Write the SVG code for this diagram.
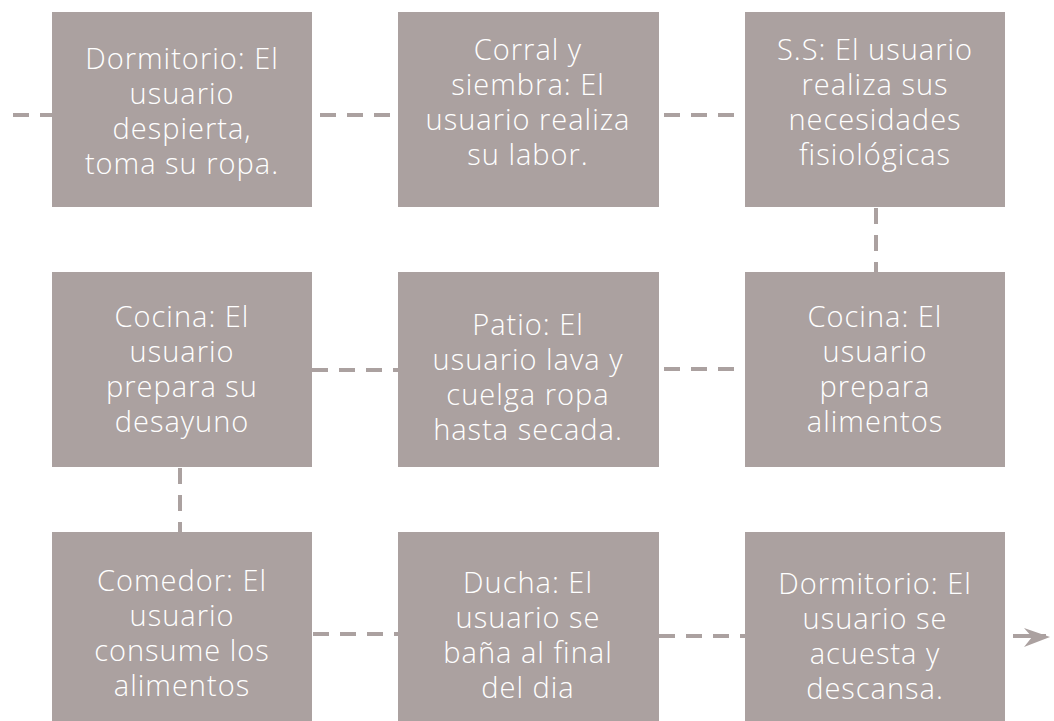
<svg xmlns="http://www.w3.org/2000/svg" width="1054" height="721" viewBox="0 0 1054 721">
<style>
.box{fill:#aba1a0;}
.t{font-family:"Open Sans","Liberation Sans",sans-serif;font-weight:300;font-size:29px;letter-spacing:1px;fill:#ffffff;text-anchor:middle;}
.c{stroke:#aba1a0;stroke-width:4;fill:none;stroke-dasharray:16 11;}
</style>
<rect width="1054" height="721" fill="#ffffff"/>
<g id="connectors">
<line class="c" x1="13" y1="115" x2="52" y2="115"/>
<line class="c" x1="320" y1="115" x2="398" y2="115"/>
<line class="c" x1="664" y1="115" x2="745" y2="115"/>
<line class="c" x1="876" y1="208" x2="876" y2="272"/>
<line class="c" x1="312" y1="370" x2="398" y2="370"/>
<line class="c" x1="664" y1="369" x2="745" y2="369"/>
<line class="c" x1="180" y1="468" x2="180" y2="532"/>
<line class="c" x1="313" y1="634" x2="398" y2="634"/>
<line class="c" x1="659" y1="636" x2="745" y2="636"/>
<path d="M1013,636 L1046,636" stroke="#aba1a0" stroke-width="4" fill="none"/>
<path d="M1024,628 L1050,637 L1024,647 L1032,637 Z" fill="#aba1a0"/>
</g>
<g id="n1"><rect class="box" x="52" y="12" width="260" height="195"/>
<text class="t"><tspan x="182" y="69">Dormitorio: El</tspan><tspan x="182" y="104">usuario</tspan><tspan x="182" y="139">despierta,</tspan><tspan x="182" y="174">toma su ropa.</tspan></text></g>
<g id="n2"><rect class="box" x="398" y="12" width="261" height="195"/>
<text class="t"><tspan x="528" y="60">Corral y</tspan><tspan x="528" y="95">siembra: El</tspan><tspan x="528" y="130">usuario realiza</tspan><tspan x="528" y="165">su labor.</tspan></text></g>
<g id="n3"><rect class="box" x="745" y="12" width="260" height="195"/>
<text class="t"><tspan x="875" y="60">S.S: El usuario</tspan><tspan x="875" y="95">realiza sus</tspan><tspan x="875" y="130">necesidades</tspan><tspan x="875" y="165">fisiológicas</tspan></text></g>
<g id="n4"><rect class="box" x="52" y="272" width="260" height="195"/>
<text class="t"><tspan x="182" y="327">Cocina: El</tspan><tspan x="182" y="362">usuario</tspan><tspan x="182" y="397">prepara su</tspan><tspan x="182" y="432">desayuno</tspan></text></g>
<g id="n5"><rect class="box" x="398" y="272" width="261" height="195"/>
<text class="t"><tspan x="528" y="335">Patio: El</tspan><tspan x="528" y="370">usuario lava y</tspan><tspan x="528" y="405">cuelga ropa</tspan><tspan x="528" y="440">hasta secada.</tspan></text></g>
<g id="n6"><rect class="box" x="745" y="272" width="260" height="195"/>
<text class="t"><tspan x="875" y="327">Cocina: El</tspan><tspan x="875" y="362">usuario</tspan><tspan x="875" y="397">prepara</tspan><tspan x="875" y="432">alimentos</tspan></text></g>
<g id="n7"><rect class="box" x="52" y="532" width="260" height="195"/>
<text class="t"><tspan x="182" y="591">Comedor: El</tspan><tspan x="182" y="626">usuario</tspan><tspan x="182" y="661">consume los</tspan><tspan x="182" y="696">alimentos</tspan></text></g>
<g id="n8"><rect class="box" x="398" y="532" width="261" height="195"/>
<text class="t"><tspan x="528" y="593">Ducha: El</tspan><tspan x="528" y="628">usuario se</tspan><tspan x="528" y="663">baña al final</tspan><tspan x="528" y="698">del dia</tspan></text></g>
<g id="n9"><rect class="box" x="745" y="532" width="260" height="195"/>
<text class="t"><tspan x="875" y="594">Dormitorio: El</tspan><tspan x="875" y="629">usuario se</tspan><tspan x="875" y="664">acuesta y</tspan><tspan x="875" y="699">descansa.</tspan></text></g>
</svg>
